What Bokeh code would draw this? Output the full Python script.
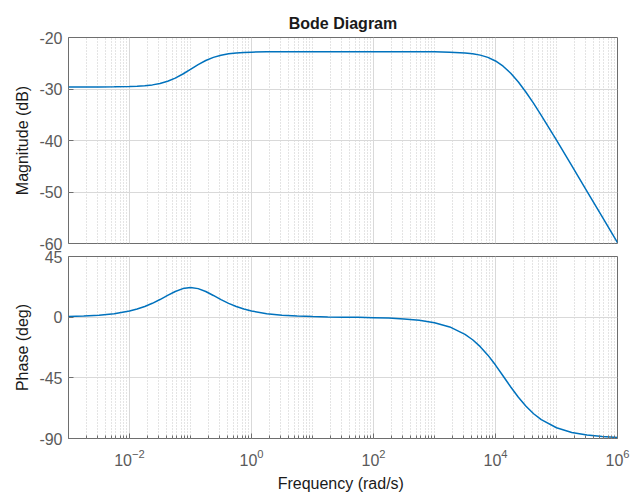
from bokeh.plotting import figure
from bokeh.layouts import column
from bokeh.models import Range1d, FixedTicker, CustomJSTickFormatter, LogTickFormatter
from bokeh.embed import file_html
from bokeh.resources import INLINE

# ---- data ----
freq = [0.001, 0.001778, 0.003162, 0.005623, 0.01, 0.01334, 0.01778, 0.02371, 0.03162,
        0.04217, 0.05623, 0.075, 0.1, 0.1334, 0.1778, 0.2371, 0.3162, 0.4217, 0.5623,
        0.75, 1.0, 1.778, 3.162, 5.623, 10.0, 17.78, 31.62, 56.23, 100.0, 177.8, 316.2,
        562.3, 1000.0, 1778.0, 3162.0, 4217.0, 5623.0, 7499.0, 10000.0, 13335.0, 17783.0,
        23714.0, 31623.0, 42170.0, 56234.0, 100000.0, 177828.0, 316228.0, 562341.0, 1000000.0]

mag_db = [-29.60, -29.60, -29.59, -29.58, -29.53, -29.47, -29.37, -29.20, -28.93,
          -28.50, -27.89, -27.09, -26.18, -25.27, -24.47, -23.86, -23.44, -23.16, -22.99,
          -22.89, -22.84, -22.79, -22.78, -22.77, -22.77, -22.77, -22.77, -22.77, -22.77, -22.77, -22.77,
          -22.78, -22.79, -22.84, -22.99, -23.15, -23.42, -23.86, -24.56, -25.57, -26.94,
          -28.65, -30.63, -32.80, -35.11, -39.93, -44.87, -49.86, -54.85, -59.85]

phase_deg = [0.46, 0.82, 1.46, 2.59, 4.58, 6.04, 7.93, 10.28, 13.07,
             16.13, 19.04, 21.19, 21.98, 21.17, 19.02, 16.10, 13.04, 10.26, 7.92,
             6.03, 4.57, 2.59, 1.46, 0.82, 0.42, 0.19, 0.02, -0.15, -0.36, -0.70, -1.28,
             -2.29, -4.08, -7.24, -12.73, -16.76, -21.88, -28.17, -35.54, -43.61, -51.79,
             -59.44, -66.12, -71.64, -76.02, -82.03, -85.50, -87.47, -88.57, -89.20]

x_ticks = [1e-2, 1e0, 1e2, 1e4, 1e6]
x_minor = [m * 10.0 ** k for k in range(-3, 6) for m in range(1, 10)
           if not (m == 1 and k % 2 == 0)]
mag_ticks = [-60, -50, -40, -30, -20]
phase_ticks = [-90, -45, 0, 45]

FONT = "Liberation Sans"
LINE = "#0072BD"
TICKCOL = "#5a5a5a"
LABCOL = "#1a1a1a"
BOX = "#6e6e6e"


def style(p, yticks, ylabel):
    p.outline_line_color = BOX
    p.outline_line_width = 1
    p.background_fill_color = "white"
    p.border_fill_color = "white"
    xt = FixedTicker(ticks=x_ticks, minor_ticks=x_minor)
    p.xaxis.ticker = xt
    p.xgrid.ticker = xt
    p.xgrid.grid_line_color = "#d9d9d9"
    p.xgrid.minor_grid_line_color = "#c8c8c8"
    p.xgrid.minor_grid_line_dash = "1 2"
    yt = FixedTicker(ticks=yticks)
    p.yaxis.ticker = yt
    p.ygrid.ticker = yt
    p.ygrid.grid_line_color = "#d9d9d9"
    ya = p.yaxis[0]
    ya.formatter = CustomJSTickFormatter(code="return tick.toString()")
    ya.axis_line_color = None
    ya.major_tick_in = 5
    ya.major_tick_out = 0
    ya.major_tick_line_color = BOX
    ya.minor_tick_line_color = None
    ya.major_label_standoff = 6
    ya.major_label_text_font = FONT
    ya.major_label_text_font_size = "16px"
    ya.major_label_text_color = TICKCOL
    ya.axis_label = ylabel
    ya.axis_label_text_font = FONT
    ya.axis_label_text_font_size = "16px"
    ya.axis_label_text_font_style = "normal"
    ya.axis_label_text_color = LABCOL
    ya.axis_label_standoff = 5


p1 = figure(width=630, height=250, x_axis_type="log",
            x_range=Range1d(1e-3, 1e6), y_range=Range1d(-60, -20),
            output_backend="svg", toolbar_location=None,
            min_border_left=68, min_border_right=13, min_border_top=37, min_border_bottom=7)
style(p1, mag_ticks, "Magnitude (dB)")
p1.xaxis.visible = False
p1.title.text = "Bode Diagram"
p1.title.align = "center"
p1.title.text_font = FONT
p1.title.text_font_size = "16px"
p1.title.text_font_style = "bold"
p1.title.text_color = LABCOL
p1.title.standoff = 12
p1.line(freq, mag_db, line_color=LINE, line_width=1.5)

p2 = figure(width=630, height=246, x_axis_type="log",
            x_range=Range1d(1e-3, 1e6), y_range=Range1d(-90, 45),
            output_backend="svg", toolbar_location=None,
            min_border_left=68, min_border_right=13, min_border_top=6, min_border_bottom=58)
style(p2, phase_ticks, "Phase (deg)")
xa = p2.xaxis[0]
xa.formatter = LogTickFormatter()
xa.axis_line_color = None
xa.major_tick_in = 5
xa.major_tick_out = 0
xa.minor_tick_in = 3
xa.minor_tick_out = 0
xa.major_tick_line_color = BOX
xa.minor_tick_line_color = BOX
xa.major_label_standoff = 10
xa.major_label_text_font = FONT
xa.major_label_text_font_size = "16px"
xa.major_label_text_color = TICKCOL
xa.axis_label = "Frequency  (rad/s)"
xa.axis_label_text_font = FONT
xa.axis_label_text_font_size = "16px"
xa.axis_label_text_font_style = "normal"
xa.axis_label_text_color = LABCOL
xa.axis_label_standoff = 6
p2.line(freq, phase_deg, line_color=LINE, line_width=1.5)

layout = column(p1, p2, spacing=0)
open("out.html", "w").write(file_html(layout, INLINE))
